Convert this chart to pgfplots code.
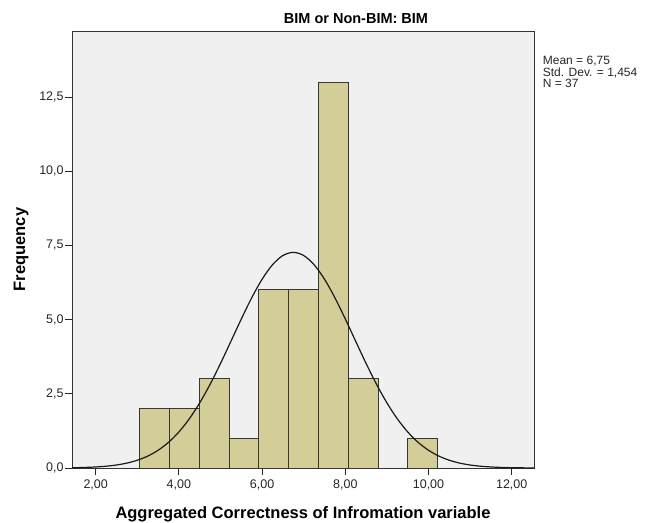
\documentclass[border=0pt]{standalone}
\usepackage{fontspec}
\setmainfont{Liberation Sans}
\usepackage{pgfplots}
\pgfplotsset{compat=1.18}

\definecolor{barfill}{RGB}{211,206,152}
\definecolor{plotbg}{RGB}{240,240,240}
\definecolor{edge}{RGB}{55,55,55}

\begin{document}
\begin{tikzpicture}
% fixed page frame
\path[use as bounding box] (-72pt,-54pt) rectangle (580pt,468pt);
\begin{axis}[
  scale only axis,
  width=462pt, height=437pt,
  xmin=1.43, xmax=12.536,
  ymin=0, ymax=14.73,
  axis background/.style={fill=plotbg},
  axis line style={black!80, line width=0.9pt},
  tick align=outside,
  xtick pos=bottom, ytick pos=left,
  major tick length=7pt,
  tick style={black!85, line width=0.9pt},
  xtick={2,4,...,12},
  ytick={0,2.5,5,7.5,10,12.5},
  /pgf/number format/assume math mode=true,
  xticklabel style={yshift=-3pt, /pgf/number format/.cd, fixed, fixed zerofill, precision=2, use comma},
  yticklabel style={/pgf/number format/.cd, fixed, fixed zerofill, precision=1, use comma},
  ticklabel style={font=\fontsize{12.5}{14}\selectfont, text=black!85, inner sep=1.2pt},
  every axis title shift=0pt,
  title={BIM or Non-BIM: BIM},
  title style={at={(axis description cs:0.6147,1.0176)}, anchor=base,
               font=\fontsize{14.5}{16}\selectfont\bfseries},
  xlabel={Aggregated Correctness of Infromation variable},
  xlabel style={at={(axis description cs:0.5,-0.116)}, anchor=base,
                font=\fontsize{16.5}{18}\selectfont\bfseries},
  ylabel={Frequency},
  ylabel style={at={(axis description cs:-0.1017,0.5)}, anchor=base,
                font=\fontsize{16.5}{18}\selectfont\bfseries},
  clip=true,
]
% histogram bins (width 0.716)
\addplot[ybar, bar width=0.716, bar shift=0pt, fill=barfill, draw=edge, line width=1pt]
  coordinates {
    (3.418,2) (4.134,2) (4.850,3) (5.566,1) (6.282,6)
    (6.998,6) (7.714,13) (8.430,3) (9.862,1)
  };
% normal curve, Mean = 6.75, SD = 1.454, N = 37
\addplot[black!90, line width=1.2pt, smooth] coordinates {
  (1.0,0.0029) (1.25,0.0057) (1.5,0.0107) (1.75,0.0197) (2.0,0.0350)
  (2.25,0.0605) (2.5,0.1014) (2.75,0.1652) (3.0,0.2612) (3.25,0.4010)
  (3.5,0.5978) (3.75,0.8650) (4.0,1.2155) (4.25,1.6578) (4.5,2.1952)
  (4.75,2.8225) (5.0,3.5232) (5.25,4.2696) (5.5,5.0233) (5.75,5.7382)
  (6.0,6.3635) (6.25,6.8516) (6.5,7.1624) (6.75,7.2688) (7.0,7.1624)
  (7.25,6.8516) (7.5,6.3635) (7.75,5.7382) (8.0,5.0233) (8.25,4.2696)
  (8.5,3.5232) (8.75,2.8225) (9.0,2.1952) (9.25,1.6578) (9.5,1.2155)
  (9.75,0.8650) (10.0,0.5978) (10.25,0.4010) (10.5,0.2612) (10.75,0.1652)
  (11.0,0.1014) (11.25,0.0605) (11.5,0.0350) (11.75,0.0197) (12.0,0.0107)
  (12.25,0.0057) (12.5,0.0029) (12.75,0.0014)
};
\end{axis}
% summary statistics
\begin{scope}[every node/.style={anchor=base west, inner sep=0pt, text=black!85,
                                 font=\fontsize{12}{13}\selectfont}]
  \node at (470.7pt,403pt) {Mean = 6,75};
  \node at (470.7pt,391.5pt) {Std. Dev. = 1,454};
  \node at (470.7pt,380pt) {N = 37};
\end{scope}
\end{tikzpicture}
\end{document}
